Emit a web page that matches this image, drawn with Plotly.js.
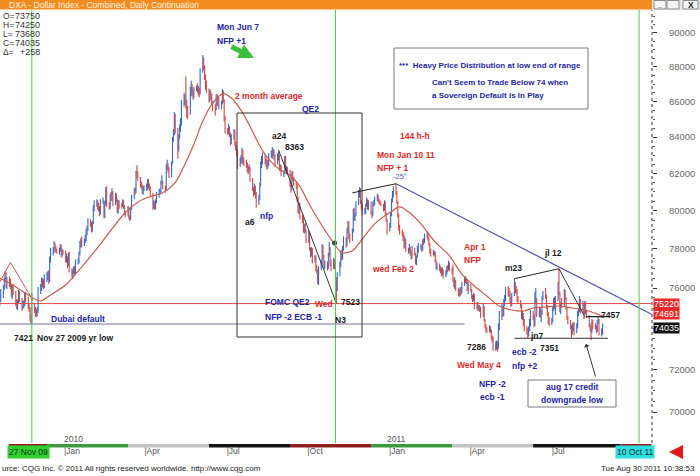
<!DOCTYPE html>
<html><head><meta charset="utf-8">
<script src="https://cdn.plot.ly/plotly-3.0.1.min.js"></script>
<style>html,body{margin:0;padding:0;background:#fff;overflow:hidden}#chart{width:700px;height:476px}</style>
</head><body><div id="chart"></div>
<script>
// ---- DATA: DXA Dollar Index, daily bars (one row = one trading week) ----
const firstTradingDay = '2009-10-19';
const opens = [
75.70,75.55,75.40,75.25,75.35, 75.60,76.00,76.45,76.70,76.10, 76.40,76.30,76.05,75.70,76.00, 75.80,75.20,75.10,75.30,75.75,
75.40,75.05,75.20,75.20,75.60, 75.45,75.05,74.95,74.50,74.40, 75.10,74.90,74.75,74.70,74.90, 75.90,75.95,76.35,76.25,76.10,
76.55,76.55,76.65,76.35,77.45, 77.90,77.90,78.15,78.05,77.95, 77.85,77.95,78.10,77.75,77.90, 77.85,77.50,77.55,77.20,77.65,
76.90,76.65,76.80,76.95,76.85, 77.30,77.35,77.70,78.25,78.40, 78.30,78.40,78.60,78.90,79.10, 79.45,79.30,78.95,79.35,80.20,
80.40,80.45,80.20,80.15,79.85, 80.45,80.50,79.70,80.40,80.95, 80.30,80.20,80.75,80.70,81.00, 80.35,80.80,80.55,79.90,80.45,
80.30,80.30,80.45,80.20,79.80, 79.80,80.10,79.60,79.55,80.10, 80.75,81.10,81.00,82.05,81.90, 81.75,81.35,81.25,81.05,81.20,
81.20,81.20,81.60,81.30,81.25, 80.90,80.15,80.45,80.10,80.50, 80.85,81.00,81.05,81.50,81.55, 81.30,81.15,82.40,82.40,82.25,
81.85,82.55,83.90,84.25,85.10, 84.45,83.30,84.00,84.55,84.75, 86.00,86.10,86.25,85.80,85.40, 85.30,86.70,86.70,86.60,86.40,
86.75,86.80,86.70,86.55,86.45, 87.75,88.35,88.00,87.45,86.80, 86.65,86.10,86.55,86.25,86.00, 85.55,85.55,86.30,85.85,86.15,
85.65,85.95,86.60,86.10,85.10, 84.30,84.30,84.50,84.15,83.70, 84.00,84.35,83.60,83.45,83.20, 82.45,82.70,82.80,83.25,82.65,
82.60,82.50,82.25,82.15,82.25, 81.70,81.15,80.95,81.25,80.85, 80.40,80.70,81.35,82.50,82.75, 83.00,82.70,82.65,82.40,82.45,
82.95,83.05,83.15,83.20,82.90, 82.55,82.95,83.00,82.25,82.35, 81.95,82.00,82.85,82.20,82.25, 82.15,81.35,81.20,82.05,81.70,
81.45,81.35,80.60,79.95,80.30, 79.65,79.55,78.95,79.15,78.95, 78.40,78.80,78.00,77.70,77.95, 77.40,77.55,76.95,76.90,76.40,
77.00,77.25,78.15,77.60,77.15, 77.25,77.05,77.70,78.05,77.25, 77.00,77.35,77.20,76.50,75.95, 76.70,77.20,77.70,77.60,78.05,
78.55,78.25,79.00,79.40,78.60, 78.45,78.95,80.00,79.55,79.80, 80.40,80.95,81.20,80.45,80.25, 79.95,80.05,80.30,80.55,80.15,
80.45,79.85,79.75,80.40,80.45, 80.65,80.75,80.55,80.50,80.40, 80.30,80.05,80.45,79.85,79.50, 79.00,79.20,79.80,80.55,80.95,
81.15,81.00,80.45,79.75,79.05, 78.90,78.75,78.70,78.10,78.45, 77.95,77.90,78.05,77.80,77.55, 78.00,77.75,77.25,77.60,78.05,
78.05,78.15,78.00,78.40,78.35, 78.70,78.75,78.55,78.25,77.85, 77.75,77.85,77.75,77.40,77.05, 77.20,76.95,76.85,76.75,76.90,
76.65,76.75,77.00,76.95,77.25, 76.95,76.85,76.40,76.20,76.35, 75.95,75.75,75.70,75.95,75.80, 76.20,76.45,76.35,76.30,75.95,
76.15,75.90,75.55,75.45,75.65, 75.05,75.20,74.95,75.05,74.95, 74.60,75.05,74.40,74.10,73.95, 73.85,74.00,73.85,73.55,73.50,
72.95,73.20,73.20,73.05,74.05, 74.45,75.00,74.70,75.30,75.50, 75.95,75.80,75.75,75.45,75.20, 75.65,76.25,75.85,75.85,75.45,
75.35,75.10,74.55,74.65,74.20, 73.95,73.85,73.65,74.00,74.20, 74.75,74.55,74.15,75.40,75.40, 74.65,74.95,74.65,74.75,75.50,
75.65,75.55,75.05,74.70,74.35, 74.20,74.40,74.95,75.40,75.00, 75.40,76.20,75.75,74.90,75.15, 75.10,75.85,75.50,75.00,74.50,
74.35,74.05,73.75,74.05,74.20, 73.80,74.10,74.75,74.90,75.30, 74.85,75.10,74.55,75.25,74.80, 74.60,74.15,74.05,73.80,74.35,
74.15,74.10,73.85,74.30,74.35, 73.75,73.75];
const highs = [
75.85,75.65,75.55,75.60,75.95, 76.15,76.55,76.85,76.80,76.55, 76.60,76.45,76.15,76.15,76.20, 75.85,75.45,75.40,75.90,75.85,
75.50,75.35,75.40,75.75,75.80, 75.55,75.20,75.05,74.70,75.75, 75.25,75.05,74.95,75.05,76.05, 76.20,76.55,76.50,76.45,76.70,
76.80,76.85,76.90,77.60,78.05, 78.10,78.40,78.30,78.15,78.00, 78.05,78.25,78.20,78.00,77.95, 77.90,77.75,77.60,77.80,77.85,
77.00,76.95,77.10,77.10,77.45, 77.50,77.85,78.40,78.55,78.65, 78.55,78.75,79.05,79.20,79.60, 79.55,79.40,79.45,80.30,80.55,
80.60,80.55,80.40,80.25,80.60, 80.70,80.55,80.50,81.25,81.30, 80.45,80.90,81.00,81.20,81.05, 80.95,80.90,80.60,80.55,80.55,
80.40,80.60,80.55,80.30,79.95, 80.25,80.20,79.75,80.20,80.85, 81.20,81.25,82.15,82.45,82.10, 81.80,81.55,81.40,81.30,81.35,
81.45,81.70,81.70,81.45,81.30, 80.95,80.55,80.50,80.60,81.00, 81.15,81.20,81.60,81.90,81.60, 81.35,82.50,82.75,82.55,82.35,
82.65,84.00,84.45,85.40,85.30, 84.50,84.15,84.70,85.05,86.10, 86.50,86.40,87.45,86.10,85.75, 86.85,87.20,87.00,86.75,86.85,
86.90,87.05,86.90,86.80,87.90, 88.70,88.55,88.10,87.55,87.20, 86.75,86.70,86.60,86.45,86.05, 85.85,86.40,86.45,86.35,86.25,
86.05,86.70,86.65,86.15,85.20, 84.50,84.75,84.60,84.25,84.15, 84.45,84.40,83.75,83.55,83.30, 82.85,83.00,83.40,83.30,82.90,
82.75,82.60,82.40,82.50,82.35, 81.75,81.25,81.45,81.35,81.00, 80.85,81.50,82.65,82.95,83.15, 83.05,82.85,82.75,82.75,83.10,
83.25,83.45,83.35,83.30,83.05, 83.10,83.20,83.05,82.50,82.45, 82.10,82.95,82.95,82.40,82.35, 82.20,81.50,82.10,82.15,81.80,
81.55,81.40,80.75,80.45,80.40, 79.80,79.65,79.30,79.35,79.00, 78.95,78.85,78.05,78.10,78.05, 77.70,77.65,77.15,76.95,77.10,
77.45,78.25,78.20,77.70,77.40, 77.35,77.80,78.35,78.10,77.45, 77.55,77.45,77.30,76.55,76.80, 77.35,77.90,77.95,78.15,78.65,
78.60,79.10,79.45,79.45,78.80, 79.05,80.10,80.15,79.90,80.50, 81.10,81.25,81.20,80.55,80.35, 80.15,80.35,80.70,80.60,80.55,
80.50,79.95,80.45,80.55,80.75, 80.90,80.85,80.65,80.55,80.45, 80.35,80.55,80.50,79.90,79.55, 79.35,79.90,80.65,81.05,81.30,
81.44,81.05,80.50,79.85,79.25, 79.00,78.90,78.75,78.60,78.50, 78.05,78.25,78.10,77.85,78.15, 78.05,77.80,77.65,78.15,78.30,
78.25,78.20,78.50,78.55,78.80, 78.90,78.85,78.60,78.30,78.00, 77.95,77.90,77.85,77.45,77.30, 77.25,77.10,77.00,77.05,76.95,
76.90,77.10,77.15,77.40,77.30, 77.05,77.20,76.50,76.55,76.40, 76.00,75.95,76.05,76.05,76.30, 76.55,76.60,76.50,76.40,76.30,
76.20,75.95,75.65,75.75,75.70, 75.30,75.30,75.15,75.15,75.05, 75.25,75.10,74.45,74.20,74.05, 74.15,74.10,73.95,73.65,73.60,
73.35,73.40,73.35,74.25,74.85, 75.20,75.10,75.45,75.65,76.05, 76.10,76.00,75.85,75.55,75.75, 76.47,76.30,76.10,75.95,75.60,
75.40,75.20,74.85,74.75,74.45, 74.10,74.00,74.10,74.45,74.90, 74.85,74.65,75.80,76.00,75.50, 75.05,75.00,74.90,75.60,75.85,
76.00,75.65,75.15,74.80,74.55, 74.50,75.05,75.50,75.55,75.60, 76.30,76.98,75.80,75.30,75.50, 75.95,75.90,75.55,75.05,74.60,
74.40,74.15,74.25,74.30,74.30, 74.25,74.85,75.00,75.60,75.45, 75.35,75.20,75.35,75.30,74.90, 74.65,74.25,74.10,74.45,74.40,
74.25,74.15,74.40,74.55,74.45, 74.00,74.25];
const lows = [
75.40,75.15,75.10,75.10,75.30, 75.50,75.90,76.30,76.00,75.95, 76.05,75.95,75.55,75.45,75.65, 75.10,74.95,74.90,75.20,75.30,
74.85,74.95,75.00,75.10,75.30, 74.95,74.80,74.35,74.25,74.21, 74.75,74.55,74.55,74.60,74.75, 75.70,75.85,76.05,75.95,76.00,
76.30,76.40,76.20,76.30,77.30, 77.65,77.80,77.90,77.80,77.75, 77.70,77.85,77.55,77.60,77.70, 77.30,77.30,77.00,77.10,76.80,
76.55,76.45,76.70,76.60,76.75, 77.20,77.25,77.65,78.05,78.10, 78.15,78.30,78.40,78.70,78.95, 79.15,78.85,78.90,79.30,79.95,
80.20,80.05,79.95,79.70,79.80, 80.35,79.60,79.60,80.30,80.20, 80.05,80.10,80.50,80.55,80.25, 80.30,80.45,79.85,79.85,80.10,
80.10,80.20,80.10,79.75,79.65, 79.70,79.55,79.45,79.50,80.05, 80.60,80.85,80.95,81.75,81.60, 81.25,81.15,80.90,80.85,81.05,
81.05,81.10,81.20,81.05,80.80, 80.05,80.10,80.05,80.05,80.40, 80.70,80.85,80.95,81.40,81.15, 80.95,81.05,82.20,82.05,81.75,
81.80,82.50,83.75,84.10,84.20, 82.80,83.20,83.90,84.30,84.65, 85.70,85.80,85.60,85.10,85.00, 85.25,86.30,86.35,86.10,86.20,
86.60,86.50,86.35,86.25,86.40, 87.65,87.80,87.25,86.65,86.50, 85.95,86.00,86.10,85.85,85.45, 85.20,85.50,85.75,85.75,85.55,
85.55,85.85,85.95,84.90,84.20, 84.10,84.20,84.00,83.55,83.60, 83.85,83.50,83.25,82.95,82.25, 82.35,82.50,82.60,82.50,82.40,
82.30,82.05,81.95,82.05,81.55, 81.05,80.75,80.85,80.65,80.15, 80.30,80.55,81.30,82.30,82.50, 82.50,82.35,82.20,82.25,82.40,
82.85,82.80,82.95,82.75,82.35, 82.50,82.70,82.15,82.10,81.85, 81.80,81.95,82.10,81.95,81.95, 81.25,80.95,81.10,81.60,81.30,
81.15,80.45,79.85,79.85,79.55, 79.35,78.85,78.80,78.85,78.30, 78.30,77.90,77.55,77.60,77.25, 77.30,76.85,76.75,76.20,76.15,
76.90,77.15,77.50,77.00,76.95, 76.90,76.95,77.60,77.10,76.85, 76.95,76.95,76.30,75.23,75.85, 76.60,77.05,77.40,77.45,77.90,
78.05,78.15,78.80,78.50,78.30, 78.40,78.85,79.45,79.45,79.70, 80.30,80.70,80.35,80.05,79.75, 79.80,79.85,80.20,80.05,80.05,
79.80,79.60,79.70,80.20,80.30, 80.50,80.45,80.35,80.30,80.25, 79.95,80.00,79.75,79.40,78.75, 78.90,79.10,79.70,80.45,80.70,
80.85,80.35,79.65,78.95,78.75, 78.65,78.40,78.00,78.05,77.85, 77.75,77.80,77.65,77.45,77.50, 77.65,77.20,77.15,77.55,77.80,
77.95,77.85,77.90,78.20,78.30, 78.55,78.40,78.15,77.75,77.60, 77.65,77.60,77.30,76.95,76.90, 76.85,76.75,76.60,76.65,76.50,
76.55,76.65,76.80,76.90,76.85, 76.70,76.30,76.05,75.95,75.85, 75.60,75.55,75.60,75.65,75.75, 76.10,76.25,76.20,75.85,75.70,
75.80,75.45,75.30,75.35,74.95, 74.95,74.85,74.85,74.80,74.50, 74.55,74.35,74.00,73.80,73.75, 73.80,73.75,73.45,73.30,72.90,
72.90,72.95,72.86,73.00,73.90, 74.40,74.55,74.60,75.10,75.35, 75.60,75.55,75.25,75.05,75.10, 75.60,75.75,75.70,75.30,75.20,
75.00,74.45,74.40,74.10,73.85, 73.70,73.51,73.60,73.85,74.10, 74.40,74.05,74.10,75.20,74.55, 74.55,74.50,74.30,74.65,75.40,
75.45,74.95,74.60,74.20,74.10, 74.15,74.30,74.85,74.95,74.65, 75.35,75.65,74.80,74.70,75.00, 75.05,75.40,74.90,74.40,74.20,
73.95,73.55,73.70,73.85,73.65, 73.75,74.00,74.60,74.80,74.70, 74.75,74.45,74.50,74.70,74.50, 74.05,73.85,73.42,73.75,73.95,
73.95,73.75,73.80,74.20,73.65, 73.60,73.68];
const closes = [
75.55,75.40,75.25,75.35,75.60, 76.00,76.45,76.70,76.10,76.40, 76.30,76.05,75.70,76.00,75.80, 75.20,75.10,75.30,75.75,75.40,
75.05,75.20,75.20,75.60,75.45, 75.05,74.95,74.50,74.40,75.10, 74.90,74.75,74.70,74.90,75.90, 75.95,76.35,76.25,76.10,76.55,
76.55,76.65,76.35,77.45,77.90, 77.90,78.15,78.05,77.95,77.85, 77.95,78.10,77.75,77.90,77.85, 77.50,77.55,77.20,77.65,76.90,
76.65,76.80,76.95,76.85,77.30, 77.35,77.70,78.25,78.40,78.30, 78.40,78.60,78.90,79.10,79.45, 79.30,78.95,79.35,80.20,80.40,
80.45,80.20,80.15,79.85,80.45, 80.50,79.70,80.40,80.95,80.30, 80.20,80.75,80.70,81.00,80.35, 80.80,80.55,79.90,80.45,80.30,
80.30,80.45,80.20,79.80,79.80, 80.10,79.60,79.55,80.10,80.75, 81.10,81.00,82.05,81.90,81.75, 81.35,81.25,81.05,81.20,81.20,
81.20,81.60,81.30,81.25,80.90, 80.15,80.45,80.10,80.50,80.85, 81.00,81.05,81.50,81.55,81.30, 81.15,82.40,82.40,82.25,81.85,
82.55,83.90,84.25,85.10,84.45, 83.30,84.00,84.55,84.75,86.00, 86.10,86.25,85.80,85.40,85.30, 86.70,86.70,86.60,86.40,86.75,
86.80,86.70,86.55,86.45,87.75, 88.35,88.00,87.45,86.80,86.65, 86.10,86.55,86.25,86.00,85.55, 85.55,86.30,85.85,86.15,85.65,
85.95,86.60,86.10,85.10,84.30, 84.30,84.50,84.15,83.70,84.00, 84.35,83.60,83.45,83.20,82.45, 82.70,82.80,83.25,82.65,82.60,
82.50,82.25,82.15,82.25,81.70, 81.15,80.95,81.25,80.85,80.40, 80.70,81.35,82.50,82.75,83.00, 82.70,82.65,82.40,82.45,82.95,
83.05,83.15,83.20,82.90,82.55, 82.95,83.00,82.25,82.35,81.95, 82.00,82.85,82.20,82.25,82.15, 81.35,81.20,82.05,81.70,81.45,
81.35,80.60,79.95,80.30,79.65, 79.55,78.95,79.15,78.95,78.40, 78.80,78.00,77.70,77.95,77.40, 77.55,76.95,76.90,76.40,77.00,
77.25,78.15,77.60,77.15,77.25, 77.05,77.70,78.05,77.25,77.00, 77.35,77.20,76.50,75.95,76.70, 77.20,77.70,77.60,78.05,78.55,
78.25,79.00,79.40,78.60,78.45, 78.95,80.00,79.55,79.80,80.40, 80.95,81.20,80.45,80.25,79.95, 80.05,80.30,80.55,80.15,80.45,
79.85,79.75,80.40,80.45,80.65, 80.75,80.55,80.50,80.40,80.30, 80.05,80.45,79.85,79.50,79.00, 79.20,79.80,80.55,80.95,81.15,
81.00,80.45,79.75,79.05,78.90, 78.75,78.70,78.10,78.45,77.95, 77.90,78.05,77.80,77.55,78.00, 77.75,77.25,77.60,78.05,78.05,
78.15,78.00,78.40,78.35,78.70, 78.75,78.55,78.25,77.85,77.75, 77.85,77.75,77.40,77.05,77.20, 76.95,76.85,76.75,76.90,76.65,
76.75,77.00,76.95,77.25,76.95, 76.85,76.40,76.20,76.35,75.95, 75.75,75.70,75.95,75.80,76.20, 76.45,76.35,76.30,75.95,76.15,
75.90,75.55,75.45,75.65,75.05, 75.20,74.95,75.05,74.95,74.60, 75.05,74.40,74.10,73.95,73.85, 74.00,73.85,73.55,73.50,72.95,
73.20,73.20,73.05,74.05,74.45, 75.00,74.70,75.30,75.50,75.95, 75.80,75.75,75.45,75.20,75.65, 76.25,75.85,75.85,75.45,75.35,
75.10,74.55,74.65,74.20,73.95, 73.85,73.65,74.00,74.20,74.75, 74.55,74.15,75.40,75.40,74.65, 74.95,74.65,74.75,75.50,75.65,
75.55,75.05,74.70,74.35,74.20, 74.40,74.95,75.40,75.00,75.40, 76.20,75.75,74.90,75.15,75.10, 75.85,75.50,75.00,74.50,74.35,
74.05,73.75,74.05,74.20,73.80, 74.10,74.75,74.90,75.30,74.85, 75.10,74.55,75.25,74.80,74.60, 74.15,74.05,73.80,74.35,74.15,
74.10,73.85,74.30,74.35,73.75, 73.777,74.035];

// 2-month average
const maDates = ['2009-10-19','2009-11-02','2009-11-16','2009-11-30','2009-12-07','2009-12-18','2010-01-04','2010-01-15','2010-01-29',
 '2010-02-12','2010-02-26','2010-03-12','2010-03-26','2010-04-09','2010-04-23','2010-05-07','2010-05-17','2010-05-28','2010-06-07',
 '2010-06-18','2010-06-30','2010-07-09','2010-07-20','2010-07-30','2010-08-09','2010-08-18','2010-08-30','2010-09-13','2010-09-24',
 '2010-10-05','2010-10-19','2010-11-01','2010-11-10','2010-11-22','2010-12-03','2010-12-17','2011-01-03','2011-01-14','2011-01-25',
 '2011-02-07','2011-02-22','2011-03-10','2011-03-25','2011-04-08','2011-04-22','2011-05-06','2011-05-20','2011-06-03','2011-06-13',
 '2011-06-27','2011-07-12','2011-07-27','2011-08-10','2011-08-30'];
const maValues = [76.55,76.25,75.85,75.45,75.35,75.65,76.15,76.70,77.45,
 78.25,79.10,79.90,80.45,80.75,80.95,81.50,82.40,83.60,84.90,
 85.90,86.45,86.20,85.50,84.60,83.60,82.90,82.30,81.90,81.30,
 80.30,79.20,78.30,77.80,77.90,78.50,79.30,79.90,80.20,79.90,
 79.30,78.40,77.70,76.70,76.10,75.60,75.10,74.90,74.85,75.00,
 75.05,75.10,75.00,74.90,74.60];

// Drawn study lines (dates / levels)
const hhDates = ['2010-11-22','2011-01-10'];          const hhValues = [80.95, 81.44];
const downTrendDates = ['2011-01-10','2011-10-24'];   const downTrendValues = [81.44, 74.691];
const qeTrendDates = ['2010-08-31','2010-11-04'];     const qeTrendValues = [83.30, 75.23];
const m23Dates = ['2011-05-23','2011-07-12'];         const m23Values = [76.47, 76.98];
const jl12Dates = ['2011-07-12','2011-08-09'];        const jl12Values = [76.98, 74.65];
const res7457Dates = ['2011-08-12','2011-09-05'];     const res7457Values = [74.57, 74.57];
const sup7351Dates = ['2011-05-23','2011-09-05'];     const sup7351Values = [73.51, 73.51];
const level75220Dates = ['2009-10-22','2011-10-24'];  const level75220Values = [75.22, 75.22];
const dubaiDates = ['2009-10-22','2011-03-28'];       const dubaiValues = [74.21, 74.21];
const leftLineDates = ['2009-10-22','2009-11-03','2009-11-28']; const leftLineValues = [76.30, 77.30, 75.40];
const dotDates = ['2010-11-02'];                      const dotValues = [78.30];
const eventDates = ['2009-11-27','2010-11-03','2011-10-10'];
const contractRolls = ['2009-11-01','2009-12-14','2010-03-15','2010-06-14','2010-09-13','2010-12-13','2011-03-14','2011-06-13','2011-09-19','2011-10-24'];

const yTickVals = [70,72,74,76,78,80,82,84,86,88,90];
const yTickText = ['70000','72000','','76000','78000','80000','82000','84000','86000','88000','90000'];
const xTickVals = ['2010-01-01','2010-04-01','2010-07-01','2010-10-01','2011-01-01','2011-04-01','2011-07-01'];
const xTickText = ['|Jan','|Apr','|Jul','|Oct','|Jan','|Apr','|Jul'];
const priceTags = [{v:75.22, t:'75220', bg:'#e42a2a'}, {v:74.691, t:'74691', bg:'#e42a2a'}, {v:74.035, t:'74035', bg:'#111111'}];

// ---- build ----
function tradingDays(start, n){ const out=[]; const d=new Date(start+'T00:00:00Z');
  while(out.length<n){ const w=d.getUTCDay(); if(w!==0&&w!==6) out.push(d.toISOString().slice(0,10)); d.setUTCDate(d.getUTCDate()+1);} return out; }
const dates = tradingDays(firstTradingDay, closes.length);

const FONT = "'Liberation Sans',Arial,sans-serif";
const W=700, H=476, ML=0, MR=48, MT=10, MB=33;
const PW=W-ML-MR, PH=H-MT-MB;
const PX = x => (x-ML)/PW;
const PY = y => (H-MB-y)/PH;
const BLUE='#2424a6', RED='#d62b2b', BLK='#1a1a1a';
const NOTE = 8.5;

function T(text, x, y, color, o){ o=o||{};
  return Object.assign({xref:'paper', yref:'paper', x:PX(x), y:PY(y), text:(o.normal?text:'<b>'+text+'</b>'),
    showarrow:false, xanchor:o.anchor||'left', yanchor:'middle',
    font:{family:FONT, size:o.size||NOTE, color:color}}, o.extra||{}); }

function line(x, y, color, width, extra){ return Object.assign({type:'scatter', mode:'lines', x:x, y:y,
  line:{color:color, width:width||1}, hoverinfo:'skip', showlegend:false}, extra||{}); }

const traces = [
  {type:'ohlc', x:dates, open:opens, high:highs, low:lows, close:closes,
   increasing:{line:{color:'#3567c4', width:1.1}}, decreasing:{line:{color:'#d2463f', width:1.1}},
   tickwidth:0.5, hoverinfo:'skip', showlegend:false},
  line(maDates, maValues, '#c65b4e', 1.2, {line:{color:'#c65b4e', width:1.2, shape:'spline', smoothing:0.8}}),
  line(level75220Dates, level75220Values, '#e04545', 1),
  line(dubaiDates, dubaiValues, '#7a6d98', 1.2),
  line(downTrendDates, downTrendValues, '#4a52a8', 1.2),
  line(hhDates, hhValues, '#222', 1),
  line(qeTrendDates, qeTrendValues, '#333', 1),
  line(m23Dates, m23Values, '#222', 1),
  line(jl12Dates, jl12Values, '#333', 1),
  line(res7457Dates, res7457Values, '#111', 1.2),
  line(sup7351Dates, sup7351Values, '#333', 1),
  line(leftLineDates, leftLineValues, '#c65b4e', 1),
  {type:'scatter', mode:'markers', x:dotDates, y:dotValues, marker:{size:5, color:'#444'}, hoverinfo:'skip', showlegend:false}
];

const shapes = [];
shapes.push({type:'rect', xref:'paper', yref:'paper', x0:PX(0), x1:PX(652), y0:PY(9.5), y1:PY(0), fillcolor:'#f28c1e', line:{width:0}, layer:'above'});
shapes.push({type:'rect', xref:'paper', yref:'paper', x0:PX(652), x1:PX(700), y0:PY(10), y1:PY(0), fillcolor:'#e6e6e6', line:{width:0}});
[[654,666],[667,679],[683,698]].forEach(b=>shapes.push({type:'rect', xref:'paper', yref:'paper', x0:PX(b[0]), x1:PX(b[1]), y0:PY(9), y1:PY(0.5), fillcolor:'#f4f4f4', line:{color:'#8a8a8a', width:1}}));
eventDates.forEach(d=>shapes.push({type:'line', xref:'x', yref:'paper', x0:d, x1:d, y0:0, y1:1, line:{color:'#4ccc4c', width:1}}));
shapes.push({type:'rect', xref:'paper', yref:'paper', x0:PX(237), x1:PX(362), y0:PY(337), y1:PY(113), line:{color:'#333', width:1}});
shapes.push({type:'rect', xref:'paper', yref:'paper', x0:PX(394), x1:PX(588), y0:PY(109), y1:PY(48), fillcolor:'#ffffff', line:{color:'#7a7a7a', width:1}});
shapes.push({type:'rect', xref:'paper', yref:'paper', x0:PX(528), x1:PX(616), y0:PY(407), y1:PY(380), fillcolor:'#ffffff', line:{color:'#7a7a7a', width:1}});
shapes.push({type:'line', xref:'paper', yref:'paper', x0:1, x1:1, y0:0, y1:1, line:{color:'#333', width:1, dash:'dot'}});
const segCols = ['#8e1f1f','#3e9a3e','#c4c4c4','#141414'];
for(let i=0;i<contractRolls.length-1;i++) shapes.push({type:'rect', xref:'x', yref:'paper', x0:contractRolls[i], x1:contractRolls[i+1], y0:PY(447.5), y1:PY(444), fillcolor:segCols[i%4], line:{width:0}});

const ann = [];
ann.push(T('DXA - Dollar Index - Combined, Daily Continuation', 7, 4.8, '#fff4e4', {normal:true, size:8.5}));
ann.push(T('_', 660, 4.5, '#333', {anchor:'center', size:8}));
ann.push(T('X', 690.5, 4.8, '#222', {anchor:'center', size:8.5}));
const n = closes.length;
const fmt = v => String(Math.round(v*1000));
const readout = [['O=', fmt(opens[n-1])], ['H=', fmt(highs[n-1])], ['L=', fmt(lows[n-1])], ['C=', fmt(closes[n-1])],
                 ['\u0394=', '+'+Math.round((closes[n-1]-closes[n-2])*1000)]];
readout.forEach((r,i)=>{ const y=16+i*9;
  ann.push(T(r[0], 1, y, '#333', {normal:true, size:8.5, anchor:'left'}));
  ann.push(T(r[1], 42, y, '#333', {normal:true, size:9, anchor:'right'})); });
ann.push(T('Mon Jun 7', 215, 27, BLUE));
ann.push(T('NFP +1', 215, 41, BLUE));
ann.push(T('2 month average', 233, 96, RED));
ann.push(T('QE2', 300, 109, BLUE));
ann.push(T('a24', 270, 136, BLK));
ann.push(T('8363', 283, 147, BLK));
ann.push(T('a6', 243, 222, BLK));
ann.push(T('nfp', 258, 216, BLUE));
ann.push(T('FOMC QE2', 263, 302, BLUE));
ann.push(T('NFP -2 ECB -1', 263, 317, BLUE));
ann.push(T('Wed', 313, 304, RED));
ann.push(T('7523', 339, 302, BLK));
ann.push(T('N3', 333, 320, BLK));
ann.push(T('144 h-h', 398, 136, RED));
ann.push(T('Mon Jan 10 11', 375, 155, RED));
ann.push(T('NFP + 1', 375, 168, RED));
ann.push(T('-25\u00b0', 391, 176, '#5a5ab8', {normal:true, size:7.5}));
ann.push(T('wed Feb 2', 370, 269, RED));
ann.push(T('Apr 1', 462, 247, RED));
ann.push(T('NFP', 462, 260, RED));
ann.push(T('m23', 503, 268, BLK));
ann.push(T('jl 12', 542, 253, BLK));
ann.push(T('7457', 599, 315, BLK));
ann.push(T('jn7', 528, 336, BLK));
ann.push(T('7351', 538, 348, BLK));
ann.push(T('7286', 465, 347, BLK));
ann.push(T('Wed May 4', 455, 365, RED));
ann.push(T('ecb -2', 510, 352, BLUE));
ann.push(T('nfp +2', 510, 366, BLUE));
ann.push(T('NFP -2', 477, 384, BLUE));
ann.push(T('ecb -1', 478, 397, BLUE));
ann.push(T('aug 17 credit', 572, 387, BLUE, {anchor:'center'}));
ann.push(T('downgrade low', 572, 400, BLUE, {anchor:'center'}));
ann.push(T('Dubai default', 49, 319, BLUE));
ann.push(T('7421', 12, 338, BLK));
ann.push(T('Nov 27 2009 yr low', 35, 338, BLK));
ann.push(T('***  Heavy Price Distribution at low end of range', 397, 66, BLUE, {size:8}));
ann.push(T("Can't Seem to Trade Below 74 when", 430, 83, BLUE, {size:8}));
ann.push(T('a Sovereign Default is in Play', 430, 95, BLUE, {size:8}));
ann.push({xref:'paper', yref:'paper', x:PX(586), y:PY(344), ax:10, ay:34, text:'', showarrow:true, arrowhead:1, arrowsize:1, arrowwidth:1, arrowcolor:'#333'});
ann.push({xref:'paper', yref:'paper', x:PX(254), y:PY(58), ax:-24, ay:-12, text:'', showarrow:true, arrowhead:2, arrowsize:0.6, arrowwidth:5, arrowcolor:'#3cbf3c'});
ann.push({xref:'paper', yref:'paper', x:PX(669), y:PY(452), ax:14, ay:0, text:'', showarrow:true, arrowhead:2, arrowsize:0.7, arrowwidth:4, arrowcolor:'#e01818'});
priceTags.forEach(p=>ann.push({xref:'paper', yref:'y', x:PX(653), y:Math.log10(p.v), text:p.t, showarrow:false, xanchor:'left', yanchor:'middle',
  bgcolor:p.bg, borderpad:0, font:{family:FONT, size:9, color:'#ffffff'}}));
ann.push(T('2010', 73, 439, '#555', {normal:true, size:8.5, anchor:'center'}));
ann.push(T('2011', 396, 439, '#555', {normal:true, size:8.5, anchor:'center'}));
ann.push(T('27 Nov 09', 28, 452, '#103010', {normal:true, size:8.5, anchor:'center', extra:{bgcolor:'#2fd22f', borderpad:1}}));
ann.push(T('10 Oct 11', 635, 452, '#103030', {normal:true, size:8.5, anchor:'center', extra:{bgcolor:'#2fdede', borderpad:1}}));
ann.push(T('urce: CQG Inc. \u00a9 2011 All rights reserved worldwide. http://www.cqg.com', 0, 468, '#222', {normal:true, size:8}));
ann.push(T('Tue Aug 30 2011 10:38:53', 697, 468, '#222', {normal:true, size:8, anchor:'right'}));

const layout = {
  width:W, height:H, margin:{l:ML, r:MR, t:MT, b:MB, pad:0},
  paper_bgcolor:'#ffffff', plot_bgcolor:'#ffffff', showlegend:false,
  font:{family:FONT, size:10, color:'#555'},
  xaxis:{type:'date', range:['2009-10-22 06:00','2011-10-24 12:00'], rangeslider:{visible:false},
    showgrid:false, zeroline:false, showline:false, tickvals:xTickVals, ticktext:xTickText, ticks:'',
    ticklabelshift:9, ticklabelstandoff:1, tickfont:{family:FONT, size:8.5, color:'#555'}},
  yaxis:{type:'log', side:'right', range:[Math.log10(68.58), Math.log10(91.38)], showgrid:false, zeroline:false,
    showline:false, tickvals:yTickVals, ticktext:yTickText, ticks:'outside', ticklen:4, tickcolor:'#333',
    ticklabelstandoff:10, tickfont:{family:FONT, size:9.5, color:'#6a6a6a'},
    minor:{tickvals:[70.5,71,71.5,72.5,73,73.5,74.5,75,75.5,76.5,77,77.5,78.5,79,79.5,80.5,81,81.5,82.5,83,83.5,84.5,85,85.5,86.5,87,87.5,88.5,89,89.5,90.5,91],
      ticks:'outside', ticklen:2, tickcolor:'#555'}},
  shapes:shapes, annotations:ann
};
Plotly.newPlot('chart', traces, layout, {staticPlot:true, displayModeBar:false});
</script></body></html>
